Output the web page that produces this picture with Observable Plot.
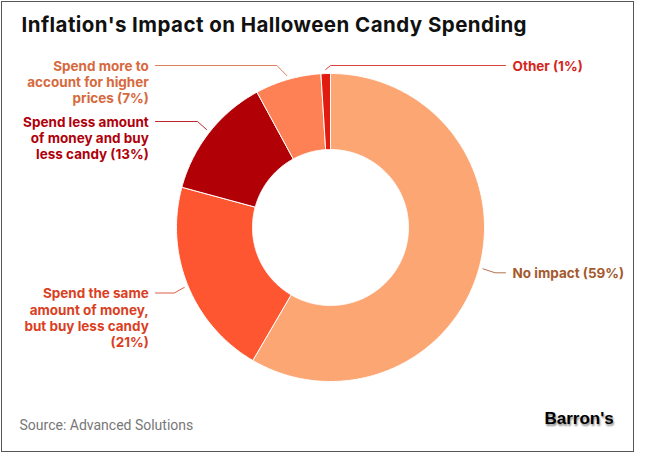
<!DOCTYPE html>
<html><head><meta charset="utf-8">
<script src="https://cdn.jsdelivr.net/npm/d3@7"></script>
<script src="https://cdn.jsdelivr.net/npm/@observablehq/plot@0.6"></script>
<style>
html,body{margin:0;padding:0;background:#fff;}
#frame{position:absolute;left:0.5px;top:0.5px;width:633px;height:451px;box-sizing:border-box;border:1.5px solid #555;background:#fff;overflow:hidden;}
#title{height:46px;box-sizing:border-box;padding:11px 0 0 20px;font:700 20.5px/24px Inter,Roboto,sans-serif;color:#111;white-space:nowrap;letter-spacing:0.45px;}
#chart{height:350px;}
#chart svg{display:block;}
#footer{position:relative;height:52px;}
#source{position:absolute;left:18px;top:19px;font:400 14px/17px Roboto,sans-serif;color:#777;white-space:nowrap;}
#brand{position:absolute;left:543px;top:11.5px;font:700 17px/19px "Liberation Sans",Arial,sans-serif;color:#000;text-shadow:1px 2px 2px rgba(0,0,0,0.45);white-space:nowrap;}
</style></head>
<body>
<div id="frame">
 <div id="title">Inflation's Impact on Halloween Candy Spending</div>
 <div id="chart"></div>
 <div id="footer"><div id="source">Source: Advanced Solutions</div><div id="brand">Barron's</div></div>
</div>
<script>
// ---- data ----
const categories = [
  "No impact",
  "Spend the same amount of money, but buy less candy",
  "Spend less amount of money and buy less candy",
  "Spend more to account for higher prices",
  "Other"
];
const values = [59, 21, 13, 7, 1];
const labelTexts = [
  "No impact (59%)",
  "Spend the same\namount of money,\nbut buy less candy\n(21%)",
  "Spend less amount\nof money and buy\nless candy (13%)",
  "Spend more to\naccount for higher\nprices (7%)",
  "Other (1%)"
];

// ---- styles ----
const sliceColors = ["#FCA673", "#FE5631", "#B10006", "#FE8055", "#E11B0F"];
const labelColors = ["#A45A2E", "#DA3F1F", "#B0000B", "#D6693E", "#D3261C"];

// ---- layout (chart pixel units, origin at donut centre, y up) ----
const W = 630, H = 350;
const R_IN = 78, R_OUT = 154, R_LEAD = 158;
const FS = 13.5, LH = 1.21;
const labelLayout = [
  {side: "right", lineY: -45.3, elbowDx: 12, endX: 175},
  {side: "left", lineY: -65.5, elbowDx: -10, endX: -175},
  {side: "left", lineY: 106, elbowDx: -9, endX: -175},
  {side: "left", lineY: 162, elbowDx: -10, endX: -175},
  {side: "right", lineY: 162, elbowDx: 5, endX: 175}
];

const rows = categories.map((c, i) => ({cat: c, value: values[i], label: labelTexts[i], i}));
const arcs = d3.pie().sort(null).value(d => d.value).startAngle(0).endAngle(2 * Math.PI)(rows);

// slice polygons
const poly = [];
arcs.forEach(a => {
  const n = Math.max(2, Math.ceil((a.endAngle - a.startAngle) / (Math.PI / 360)));
  const pts = [];
  for (let k = 0; k <= n; k++) {
    const t = a.startAngle + (a.endAngle - a.startAngle) * k / n;
    pts.push([R_OUT * Math.sin(t), R_OUT * Math.cos(t)]);
  }
  for (let k = n; k >= 0; k--) {
    const t = a.startAngle + (a.endAngle - a.startAngle) * k / n;
    pts.push([R_IN * Math.sin(t), R_IN * Math.cos(t)]);
  }
  pts.push(pts[0]);
  pts.forEach(p => poly.push({cat: a.data.cat, x: p[0], y: p[1]}));
});

// leader lines & label anchors
const leaders = [];
const labels = [];
arcs.forEach(a => {
  const L = labelLayout[a.data.i];
  const mid = (a.startAngle + a.endAngle) / 2;
  const sx = R_LEAD * Math.sin(mid), sy = R_LEAD * Math.cos(mid);
  leaders.push({cat: a.data.cat, x: sx, y: sy, c: labelColors[a.data.i]});
  leaders.push({cat: a.data.cat, x: sx + L.elbowDx, y: L.lineY, c: labelColors[a.data.i]});
  leaders.push({cat: a.data.cat, x: L.endX, y: L.lineY, c: labelColors[a.data.i]});
  labels.push({
    cat: a.data.cat, label: a.data.label, side: L.side, c: labelColors[a.data.i],
    x: L.endX + (L.side === "right" ? 7 : -6.7), y: L.lineY - 5.3
  });
});

const textOpts = {
  x: "x", y: "y", text: "label", fill: "c",
  fontSize: FS, fontWeight: 700, fontFamily: "Inter, Roboto, sans-serif",
  lineAnchor: "top", lineHeight: LH, dy: -0.71 * LH * FS, ariaLabel: "labels"
};

const chart = Plot.plot({
  width: W, height: H,
  marginTop: 0, marginRight: 0, marginBottom: 0, marginLeft: 0,
  x: {domain: [-328, 302], axis: null},
  y: {domain: [-171, 179], axis: null},
  color: {domain: categories, range: sliceColors},
  style: {overflow: "visible", background: "transparent"},
  marks: [
    Plot.line(poly, {x: "x", y: "y", z: "cat", fill: "cat", stroke: "white", strokeWidth: 1, curve: "linear"}),
    Plot.line(leaders, {x: "x", y: "y", z: "cat", stroke: "c", strokeWidth: 1, strokeOpacity: 0.85, curve: "linear"}),
    Plot.text(labels.filter(d => d.side === "left"), {...textOpts, textAnchor: "end"}),
    Plot.text(labels.filter(d => d.side === "right"), {...textOpts, textAnchor: "start"})
  ]
});

// bold category name, regular-weight percentage
chart.querySelectorAll('g[aria-label="labels"] text').forEach(t => {
  const spans = t.querySelectorAll("tspan");
  const targets = spans.length ? Array.from(spans) : [t];
  targets.forEach(el => {
    const s = el.textContent;
    const k = s.indexOf("(");
    if (k < 0) return;
    el.textContent = s.slice(0, k).trimEnd();
    const ts = document.createElementNS("http://www.w3.org/2000/svg", "tspan");
    ts.setAttribute("font-weight", "400");
    ts.textContent = (k > 0 ? " " : "") + s.slice(k);
    el.appendChild(ts);
  });
});

document.getElementById("chart").appendChild(chart);
</script>
</body></html>
